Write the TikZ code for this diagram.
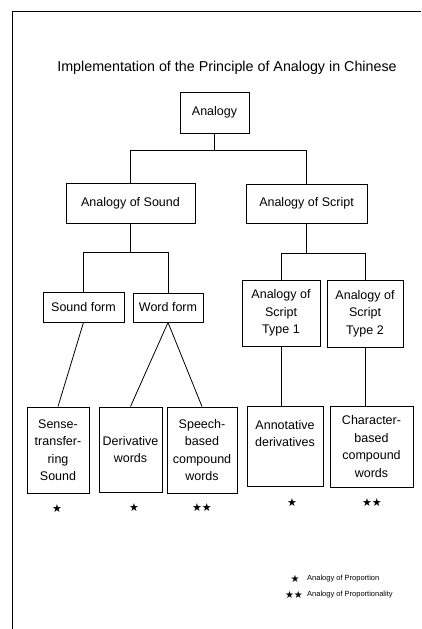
\documentclass[tikz,border=0pt]{standalone}
\usepackage{fontspec}
\setmainfont{Liberation Sans}
\newfontfamily\symfont{DejaVu Sans}
\begin{document}
\begin{tikzpicture}[x=1pt,y=-1pt,
  box/.style={draw,line width=0.9pt,inner sep=1pt,align=center,font=\fontsize{12.5}{17.5}\selectfont},
  link/.style={line width=0.8pt},
  starmark/.style={font=\symfont\fontsize{11}{11}\selectfont,inner sep=0pt},
  legstar/.style={font=\symfont\fontsize{10}{10}\selectfont,inner sep=0pt},
  legendtext/.style={font=\fontsize{7.5}{8}\selectfont,anchor=west,inner sep=0pt}]
\useasboundingbox (0,0) rectangle (421,629);
% frame
\draw[line width=0.9pt] (421,11) -- (12,11) -- (12,629);
% title
\node[font=\fontsize{14.3}{16}\selectfont] (title) at (227,68) {Implementation of the Principle of Analogy in Chinese};
% level 0
\node[box,minimum width=69pt,minimum height=41pt] (an) at (214.5,112.5) {Analogy};
% level 1
\node[box,minimum width=129pt,minimum height=40pt] (snd) at (130.5,203) {Analogy of Sound};
\node[box,minimum width=121pt,minimum height=39pt] (scr) at (306.5,203.5) {Analogy of Script};
% level 2
\node[box,minimum width=81pt,minimum height=30pt] (sf) at (83.5,307) {Sound form};
\node[box,minimum width=70pt,minimum height=29pt] (wf) at (168,307.5) {Word form};
\node[box,minimum width=78pt,minimum height=66pt] (t1) at (281,313) {Analogy of\\Script\\Type 1};
\node[box,minimum width=76pt,minimum height=67pt] (t2) at (365,313.5) {Analogy of\\Script\\Type 2};
% level 3
\node[box,minimum width=62pt,minimum height=86pt] (sense) at (58,450) {Sense-\\transfer-\\ring\\Sound};
\node[box,minimum width=63pt,minimum height=85pt] (der) at (130.5,449.5) {Derivative\\words};
\node[box,minimum width=70pt,minimum height=86pt] (sp) at (202,450) {Speech-\\based\\compound\\words};
\node[box,minimum width=76pt,minimum height=80pt] (ann) at (285,446) {Annotative\\derivatives\\[8pt]};
\node[box,minimum width=83pt,minimum height=81pt] (ch) at (371.5,446.5) {Character-\\based\\compound\\words};
% connectors
\coordinate (b1) at (0,150);
\coordinate (b2) at (0,252);
\coordinate (b3) at (0,253);
\draw[link] (an.south) -- (an.south |- b1);
\draw[link] (snd.north) |- (scr.north |- b1) -- (scr.north);
\draw[link] (snd.south) -- (snd.south |- b2);
\draw[link] (sf.north) |- (wf.north |- b2) -- (wf.north);
\draw[link] (scr.south) -- (scr.south |- b3);
\draw[link] (t1.north) |- (t2.north |- b3) -- (t2.north);
\draw[link] (sf.south) -- (sense.north);
\draw[link] (wf.south) -- (der.north);
\draw[link] (wf.south) -- (sp.north);
\draw[link] (t1.south) -- (t1.south |- ann.north);
\draw[link] (t2.south) -- (t2.south |- ch.north);
% stars
\node[starmark] (s1) at (57,509) {★};
\node[starmark] (s2) at (134,508) {★};
\node[starmark] (s3) at (202,508) {★★};
\node[starmark] (s4) at (292,503) {★};
\node[starmark] (s5) at (372,503) {★★};
% legend
\node[legstar] (l1) at (295,579) {★};
\node[legstar] (l2) at (294,595) {★★};
\node[legendtext] (lt1) at (307,579) {Analogy of Proportion};
\node[legendtext] (lt2) at (307,595) {Analogy of Proportionality};
\end{tikzpicture}
\end{document}
